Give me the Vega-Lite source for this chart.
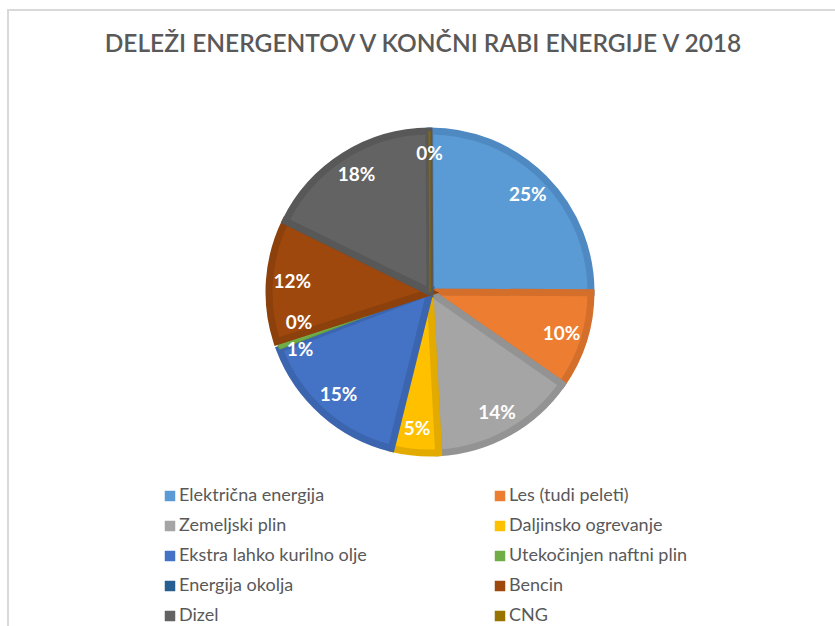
{
  "$schema": "https://vega.github.io/schema/vega-lite/v6.json",
  "width": 830,
  "height": 620,
  "autosize": {"type": "none"},
  "padding": {"left": 8, "top": 10, "right": 0, "bottom": 0},
  "background": "white",
  "view": {"stroke": "#d9d9d9", "strokeWidth": 2, "fill": "white"},
  "config": {"font": "Lato"},
  "title": {
    "text": "DELEŽI ENERGENTOV V KONČNI RABI ENERGIJE V 2018",
    "anchor": "middle",
    "frame": "group",
    "fontSize": 24.5,
    "font": "Lato",
    "fontWeight": 600,
    "color": "#595959",
    "offset": -59,
    "baseline": "middle"
  },
  "data": {
    "values": [
      {"cat": "Električna energija", "share": 0.250, "ord": 1},
      {"cat": "Les (tudi peleti)", "share": 0.096, "ord": 2},
      {"cat": "Zemeljski plin", "share": 0.144, "ord": 3},
      {"cat": "Daljinsko ogrevanje", "share": 0.047, "ord": 4},
      {"cat": "Ekstra lahko kurilno olje", "share": 0.153, "ord": 5},
      {"cat": "Utekočinjen naftni plin", "share": 0.006, "ord": 6},
      {"cat": "Energija okolja", "share": 0.002, "ord": 7},
      {"cat": "Bencin", "share": 0.122, "ord": 8},
      {"cat": "Dizel", "share": 0.176, "ord": 9},
      {"cat": "CNG", "share": 0.001, "ord": 10}
    ]
  },
  "encoding": {
    "theta": {"field": "share", "type": "quantitative", "stack": true},
    "order": {"field": "ord", "type": "quantitative"}
  },
  "layer": [
    {
      "mark": {"type": "arc", "outerRadius": 161, "x": 422, "y": 282, "strokeJoin": "miter"},
      "encoding": {
        "color": {
          "field": "cat",
          "type": "nominal",
          "sort": null,
          "scale": {
            "domain": ["Električna energija", "Les (tudi peleti)", "Zemeljski plin", "Daljinsko ogrevanje", "Ekstra lahko kurilno olje", "Utekočinjen naftni plin", "Energija okolja", "Bencin", "Dizel", "CNG"],
            "range": ["#5B9BD5", "#ED7D31", "#A5A5A5", "#FFC000", "#4472C4", "#70AD47", "#255E91", "#9E480E", "#636363", "#997300"]
          },
          "legend": {
            "title": null,
            "orient": "none",
            "legendX": 153,
            "legendY": 477,
            "columns": 2,
            "direction": "horizontal",
            "symbolType": "square",
            "symbolSize": 110,
            "symbolStrokeWidth": 0,
            "labelFont": "Lato",
            "labelFontSize": 18,
            "labelColor": "#595959",
            "labelOffset": 0,
            "labelLimit": 400,
            "rowPadding": 12,
            "columnPadding": 124,
            "padding": 0
          }
        },
        "stroke": {
          "field": "cat",
          "type": "nominal",
          "scale": {
            "domain": ["Električna energija", "Les (tudi peleti)", "Zemeljski plin", "Daljinsko ogrevanje", "Ekstra lahko kurilno olje", "Utekočinjen naftni plin", "Energija okolja", "Bencin", "Dizel", "CNG"],
            "range": ["#4F89C2", "#D46E2B", "#939393", "#E3AB00", "#3C65AF", "#639A3F", "#21537F", "#8C400C", "#585858", "#886600"]
          },
          "legend": null
        },
        "strokeWidth": {"condition": {"test": "datum.share < 0.01", "value": 1}, "value": 7}
      }
    },
    {
      "mark": {"type": "text", "radius": 138, "x": 422, "y": 282, "fill": "white", "fontWeight": "bold", "fontSize": 19, "font": "Lato"},
      "encoding": {
        "text": {"field": "share", "type": "quantitative", "format": ".0%"},
        "opacity": {"condition": {"test": "datum.cat === 'Energija okolja' || datum.cat === 'Utekočinjen naftni plin'", "value": 0}, "value": 1}
      }
    },
    {
      "mark": {"type": "text", "radius": 138, "x": 422, "y": 282, "dy": -12, "fill": "white", "fontWeight": "bold", "fontSize": 19, "font": "Lato"},
      "encoding": {
        "text": {"field": "share", "type": "quantitative", "format": ".0%"},
        "opacity": {"condition": {"test": "datum.cat === 'Energija okolja'", "value": 1}, "value": 0}
      }
    },
    {
      "mark": {"type": "text", "radius": 138, "x": 422, "y": 282, "dy": 11, "fill": "white", "fontWeight": "bold", "fontSize": 19, "font": "Lato"},
      "encoding": {
        "text": {"field": "share", "type": "quantitative", "format": ".0%"},
        "opacity": {"condition": {"test": "datum.cat === 'Utekočinjen naftni plin'", "value": 1}, "value": 0}
      }
    }
  ]
}
